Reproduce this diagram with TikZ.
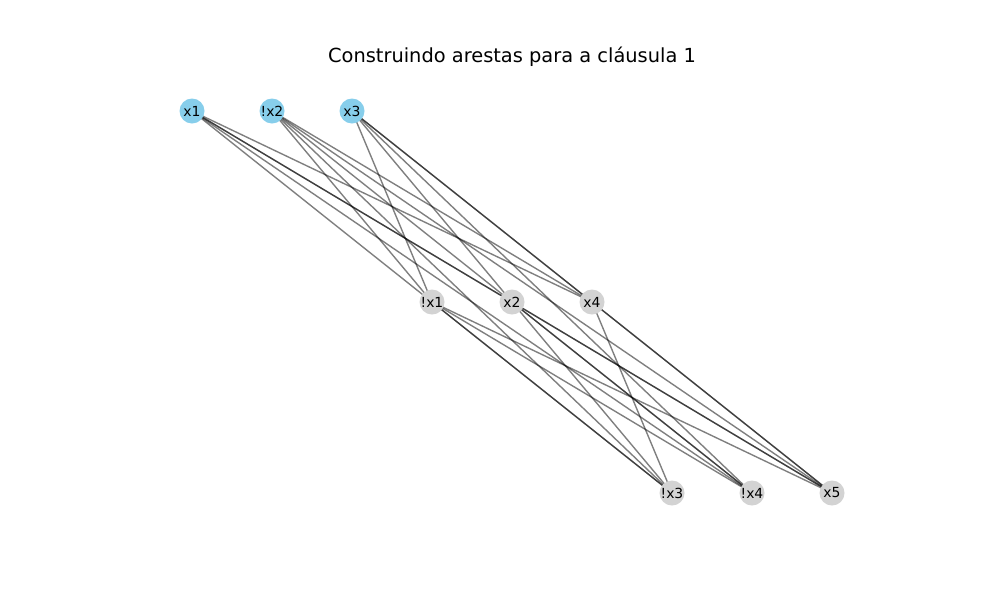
\documentclass[tikz,border=0pt]{standalone}
\usepackage{fontspec}
\setmainfont{DejaVu Sans}
\pgfdeclarelayer{background}
\pgfsetlayers{background,main}
\definecolor{skyb}{HTML}{87CEEB}
\definecolor{lgray}{HTML}{D3D3D3}
\begin{document}
\begin{tikzpicture}[x=1pt,y=-1pt,
  vnode/.style={circle,inner sep=0pt,minimum size=25pt,font=\fontsize{13.9}{16}\selectfont},
  topn/.style={vnode,fill=skyb},
  othn/.style={vnode,fill=lgray},
  edge/.style={draw=black,opacity=0.5,line width=1.39pt}]
\useasboundingbox (0,0) rectangle (1000,600);
\node[font=\fontsize{19.4}{23}\selectfont] (title) at (512,57) {Construindo arestas para a cláusula 1};
\node[topn] (x1) at (192,111) {x1};
\node[topn] (nx2) at (272,111) {!x2};
\node[topn] (x3) at (352,111) {x3};
\node[othn] (nx1) at (432,302) {!x1};
\node[othn] (x2) at (512,302) {x2};
\node[othn] (x4) at (592,302) {x4};
\node[othn] (nx3) at (672,493) {!x3};
\node[othn] (nx4) at (752,493) {!x4};
\node[othn] (x5) at (832,493) {x5};
\begin{pgfonlayer}{background}
\foreach \a/\b in {x1/x2,x1/x4,nx2/nx1,nx2/x4,x3/nx1,x3/x2,x3/x4,
  x1/nx3,x1/nx4,x1/x5,nx2/nx3,nx2/nx4,nx2/x5,x3/nx4,x3/x5,
  nx1/nx3,nx1/nx4,nx1/x5,x2/nx3,x2/nx4,x2/x5,x4/nx3,x4/x5}
  \draw[edge] (\a.center) -- (\b.center);
\end{pgfonlayer}
\end{tikzpicture}
\end{document}
